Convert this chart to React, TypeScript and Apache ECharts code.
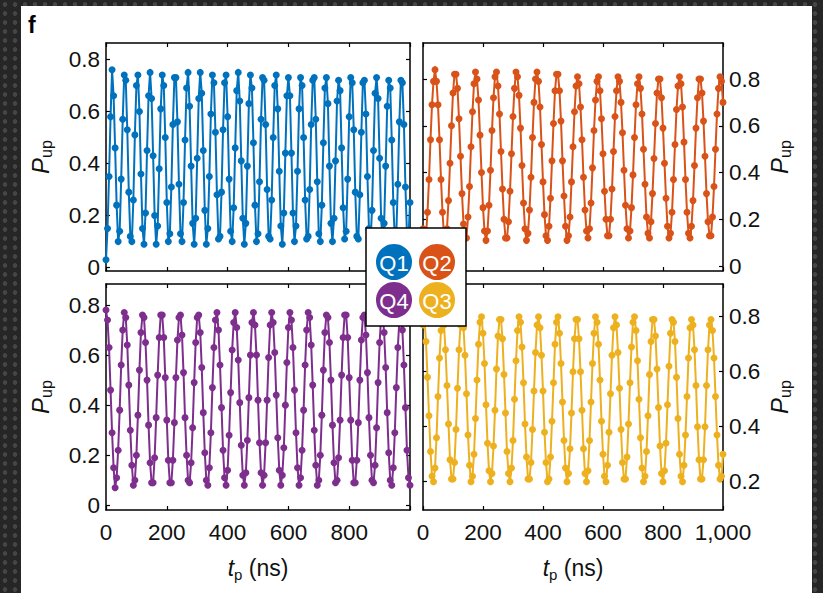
import React, { useEffect, useRef } from "react";
import * as echarts from "echarts";

// sample times (ns): 0, 5, ..., 1000
const tp: number[] = Array.from({ length: 201 }, (_, i) => i * 5);

const q1: number[] = [
  0.03,0.15,0.35,0.58,0.76,0.66,0.46,0.24,0.10,0.14,
  0.34,0.57,0.74,0.72,0.53,0.29,0.12,0.10,0.26,0.51,
  0.70,0.74,0.60,0.36,0.15,0.09,0.21,0.45,0.66,0.75,
  0.65,0.43,0.20,0.09,0.16,0.38,0.61,0.74,0.70,0.50,
  0.25,0.10,0.13,0.31,0.55,0.73,0.73,0.56,0.32,0.13,
  0.10,0.25,0.49,0.69,0.75,0.62,0.39,0.17,0.09,0.19,
  0.42,0.65,0.75,0.67,0.45,0.22,0.09,0.15,0.35,0.59,
  0.74,0.71,0.52,0.28,0.11,0.12,0.29,0.53,0.71,0.74,
  0.58,0.34,0.14,0.10,0.23,0.46,0.68,0.75,0.64,0.41,
  0.19,0.09,0.17,0.39,0.63,0.74,0.69,0.48,0.24,0.10,
  0.13,0.33,0.57,0.73,0.72,0.55,0.30,0.12,0.11,0.26,
  0.50,0.70,0.74,0.61,0.37,0.16,0.09,0.21,0.44,0.66,
  0.73,0.66,0.44,0.21,0.10,0.16,0.37,0.61,0.73,0.70,
  0.50,0.26,0.11,0.12,0.30,0.55,0.72,0.73,0.57,0.33,
  0.13,0.10,0.24,0.48,0.69,0.73,0.63,0.39,0.17,0.10,
  0.19,0.41,0.64,0.72,0.68,0.46,0.23,0.11,0.14,0.34,
  0.58,0.73,0.71,0.53,0.29,0.12,0.11,0.28,0.52,0.71,
  0.72,0.59,0.35,0.15,0.10,0.22,0.45,0.67,0.73,0.65,
  0.42,0.19,0.10,0.17,0.39,0.62,0.72,0.69,0.49,0.25,
  0.11,0.13,0.32,0.56,0.72,0.71,0.55,0.31,0.13,0.11,
  0.25
];

const q2: number[] = [
  0.16,0.11,0.13,0.23,0.37,0.54,0.69,0.79,0.84,0.79,
  0.69,0.54,0.37,0.23,0.13,0.11,0.16,0.28,0.44,0.60,
  0.74,0.82,0.82,0.76,0.63,0.47,0.31,0.18,0.12,0.12,
  0.21,0.34,0.51,0.66,0.78,0.83,0.80,0.71,0.56,0.40,
  0.25,0.15,0.11,0.15,0.26,0.41,0.58,0.72,0.81,0.83,
  0.77,0.65,0.49,0.33,0.20,0.12,0.12,0.19,0.32,0.48,
  0.64,0.76,0.83,0.81,0.73,0.59,0.43,0.27,0.16,0.11,
  0.14,0.24,0.38,0.55,0.70,0.80,0.83,0.79,0.68,0.52,
  0.36,0.22,0.13,0.11,0.17,0.29,0.45,0.61,0.75,0.82,
  0.82,0.75,0.62,0.45,0.30,0.17,0.11,0.13,0.21,0.36,
  0.51,0.66,0.77,0.81,0.78,0.68,0.54,0.38,0.24,0.15,
  0.12,0.16,0.27,0.42,0.58,0.71,0.79,0.81,0.75,0.63,
  0.48,0.32,0.20,0.13,0.13,0.20,0.33,0.49,0.64,0.75,
  0.81,0.79,0.70,0.57,0.41,0.26,0.16,0.12,0.15,0.25,
  0.39,0.55,0.69,0.78,0.81,0.76,0.65,0.50,0.35,0.21,
  0.14,0.12,0.19,0.31,0.46,0.61,0.74,0.80,0.80,0.72,
  0.59,0.44,0.29,0.17,0.12,0.14,0.23,0.37,0.52,0.67,
  0.77,0.81,0.78,0.68,0.53,0.37,0.23,0.14,0.12,0.17,
  0.28,0.43,0.59,0.72,0.80,0.80,0.74,0.62,0.47,0.31,
  0.19,0.13,0.13,0.21,0.34,0.50,0.65,0.76,0.81,0.79,
  0.70
];

const q4: number[] = [
  0.78,0.74,0.63,0.46,0.29,0.15,0.07,0.11,0.22,0.38,
  0.56,0.70,0.77,0.75,0.64,0.48,0.30,0.16,0.08,0.10,
  0.20,0.36,0.54,0.69,0.76,0.75,0.65,0.50,0.32,0.17,
  0.09,0.09,0.19,0.35,0.52,0.67,0.76,0.76,0.67,0.51,
  0.34,0.18,0.09,0.09,0.18,0.33,0.51,0.66,0.75,0.76,
  0.68,0.53,0.35,0.20,0.10,0.09,0.17,0.31,0.49,0.65,
  0.75,0.76,0.69,0.55,0.37,0.21,0.10,0.08,0.15,0.29,
  0.47,0.63,0.74,0.77,0.70,0.56,0.39,0.22,0.11,0.08,
  0.14,0.28,0.45,0.62,0.73,0.77,0.71,0.58,0.41,0.24,
  0.12,0.08,0.13,0.26,0.43,0.60,0.73,0.77,0.72,0.60,
  0.42,0.25,0.13,0.08,0.12,0.25,0.42,0.59,0.72,0.77,
  0.73,0.61,0.44,0.27,0.14,0.08,0.12,0.23,0.40,0.57,
  0.71,0.77,0.74,0.63,0.46,0.29,0.15,0.08,0.11,0.22,
  0.38,0.56,0.70,0.77,0.75,0.64,0.48,0.30,0.16,0.08,
  0.10,0.20,0.36,0.54,0.69,0.76,0.75,0.65,0.50,0.32,
  0.17,0.09,0.10,0.19,0.34,0.52,0.67,0.76,0.76,0.67,
  0.51,0.34,0.18,0.09,0.09,0.18,0.33,0.50,0.66,0.75,
  0.76,0.68,0.53,0.35,0.20,0.10,0.09,0.16,0.31,0.49,
  0.65,0.75,0.76,0.69,0.55,0.37,0.21,0.10,0.08,0.15,
  0.29,0.47,0.63,0.74,0.77,0.70,0.56,0.39,0.22,0.11,
  0.08
];

const q3: number[] = [
  0.77,0.79,0.71,0.58,0.44,0.31,0.22,0.20,0.25,0.36,
  0.51,0.65,0.75,0.80,0.77,0.68,0.55,0.41,0.28,0.21,
  0.21,0.27,0.39,0.54,0.68,0.77,0.80,0.76,0.66,0.52,
  0.37,0.26,0.20,0.22,0.30,0.43,0.57,0.70,0.78,0.80,
  0.74,0.63,0.48,0.34,0.24,0.20,0.23,0.33,0.46,0.61,
  0.73,0.79,0.79,0.72,0.59,0.45,0.31,0.23,0.20,0.25,
  0.35,0.50,0.64,0.75,0.80,0.78,0.69,0.56,0.41,0.29,
  0.21,0.21,0.27,0.39,0.53,0.67,0.77,0.80,0.76,0.66,
  0.53,0.38,0.27,0.20,0.21,0.29,0.42,0.56,0.70,0.78,
  0.80,0.74,0.63,0.49,0.35,0.25,0.20,0.23,0.32,0.45,
  0.60,0.72,0.79,0.79,0.72,0.60,0.46,0.32,0.23,0.20,
  0.24,0.35,0.49,0.63,0.74,0.80,0.78,0.70,0.57,0.42,
  0.30,0.22,0.20,0.26,0.38,0.52,0.66,0.76,0.80,0.77,
  0.67,0.54,0.39,0.27,0.21,0.21,0.29,0.41,0.56,0.69,
  0.78,0.80,0.75,0.64,0.50,0.36,0.25,0.20,0.22,0.31,
  0.44,0.59,0.71,0.79,0.79,0.73,0.61,0.47,0.33,0.23,
  0.20,0.24,0.34,0.48,0.62,0.74,0.79,0.78,0.71,0.58,
  0.43,0.30,0.22,0.20,0.26,0.37,0.51,0.65,0.76,0.79,
  0.77,0.68,0.55,0.40,0.28,0.21,0.21,0.28,0.40,0.55,
  0.68,0.77,0.79,0.75,0.65,0.51,0.37,0.26,0.21,0.22,
  0.30
];

const xTicks: number[] = [0, 200, 400, 600, 800, 1000];
const yTicks: number[] = [0, 0.2, 0.4, 0.6, 0.8];
const yTicksQ3: number[] = [0.2, 0.4, 0.6, 0.8];
const qubitNames: string[] = ["Q1", "Q2", "Q4", "Q3"];

const FONT = "'Liberation Sans', Arial, Helvetica, sans-serif";
const TXT = "#111";
const COLORS: Record<string, string> = {
  Q1: "#0072BD",
  Q2: "#D95319",
  Q3: "#EDB120",
  Q4: "#7E2F8E",
};

type Panel = {
  name: string;
  data: number[];
  grid: { left: number; top: number; width: number; height: number };
  yMin: number;
  yMax: number;
  yTicks: number[];
  side: "left" | "right";
  xLabels: boolean;
  hideMax: boolean;
};

const panels: Panel[] = [
  { name: "Q1", data: q1, grid: { left: 106, top: 43, width: 304, height: 228 }, yMin: -0.013, yMax: 0.863, yTicks, side: "left", xLabels: false, hideMax: true },
  { name: "Q2", data: q2, grid: { left: 423, top: 43, width: 300, height: 228 }, yMin: -0.021, yMax: 0.954, yTicks, side: "right", xLabels: false, hideMax: false },
  { name: "Q4", data: q4, grid: { left: 106, top: 284, width: 304, height: 226 }, yMin: -0.019, yMax: 0.884, yTicks, side: "left", xLabels: true, hideMax: true },
  { name: "Q3", data: q3, grid: { left: 423, top: 284, width: 300, height: 226 }, yMin: 0.097, yMax: 0.919, yTicks: yTicksQ3, side: "right", xLabels: true, hideMax: false },
];

const axisLine = { show: true, onZero: false, lineStyle: { color: "#000", width: 1.5 } };
const labelStyle = { color: TXT, fontSize: 22.5, fontFamily: FONT };

function buildOption() {
  const grid: any[] = [];
  const xAxis: any[] = [];
  const yAxis: any[] = [];
  const series: any[] = [];

  panels.forEach((p, k) => {
    grid.push({ ...p.grid, containLabel: false });
    xAxis.push({
      type: "value",
      gridIndex: k,
      min: 0,
      max: 1000,
      interval: 200,
      position: "bottom",
      axisLine,
      axisTick: { show: true, inside: true, length: 4, customValues: xTicks, lineStyle: { color: "#000", width: 1.2 } },
      axisLabel: {
        show: p.xLabels,
        margin: 11,
        ...labelStyle,
        customValues: p.hideMax ? xTicks.slice(0, 5) : xTicks,
        formatter: (v: number) => (v === 1000 ? "1,000" : String(v)),
      },
      splitLine: { show: false },
      name: p.xLabels ? "{t|t}{s|p}{n| (ns)}" : "",
      nameLocation: "middle",
      nameGap: 44,
      nameTextStyle: {
        color: TXT,
        fontFamily: FONT,
        rich: {
          t: { fontSize: 23, fontStyle: "italic", fontFamily: FONT, color: TXT, lineHeight: 28 },
          s: { fontSize: 15, fontFamily: FONT, color: TXT, lineHeight: 14, verticalAlign: "bottom" },
          n: { fontSize: 23, fontFamily: FONT, color: TXT, lineHeight: 28 },
        },
      },
    });
    xAxis.push({
      type: "value",
      gridIndex: k,
      min: 0,
      max: 1000,
      interval: 200,
      position: "top",
      axisLine,
      axisTick: { show: true, inside: true, length: 4, customValues: xTicks, lineStyle: { color: "#000", width: 1.2 } },
      axisLabel: { show: false },
      splitLine: { show: false },
    });
    yAxis.push({
      type: "value",
      gridIndex: k,
      min: p.yMin,
      max: p.yMax,
      position: p.side,
      axisLine,
      axisTick: { show: true, inside: true, length: 4, customValues: p.yTicks, lineStyle: { color: "#000", width: 1.2 } },
      axisLabel: {
        show: true,
        margin: 6,
        ...labelStyle,
        customValues: p.yTicks,
        formatter: (v: number) => (Math.abs(v) < 1e-9 ? "0" : v.toFixed(1)),
      },
      splitLine: { show: false },
      name: "{p|P}{s|up}",
      nameLocation: "middle",
      nameRotate: 90,
      nameGap: p.side === "left" ? 52 : 42,
      nameTextStyle: {
        color: TXT,
        fontFamily: FONT,
        rich: {
          p: { fontSize: 24, fontStyle: "italic", fontFamily: FONT, color: TXT, lineHeight: 28 },
          s: { fontSize: 16, fontFamily: FONT, color: TXT, lineHeight: 14, verticalAlign: "bottom" },
        },
      },
    });
    yAxis.push({
      type: "value",
      gridIndex: k,
      min: p.yMin,
      max: p.yMax,
      position: p.side === "left" ? "right" : "left",
      axisLine,
      axisTick: { show: true, inside: true, length: 4, customValues: p.yTicks, lineStyle: { color: "#000", width: 1.2 } },
      axisLabel: { show: false },
      splitLine: { show: false },
    });
    series.push({
      name: p.name,
      type: "line",
      xAxisIndex: 2 * k,
      yAxisIndex: 2 * k,
      data: tp.map((t, i) => [t, p.data[i]]),
      symbol: "circle",
      symbolSize: 7,
      showSymbol: true,
      showAllSymbol: true,
      clip: true,
      lineStyle: { color: COLORS[p.name], width: 2 },
      itemStyle: { color: COLORS[p.name] },
      z: 2,
    });
  });

  // legend box with coloured qubit badges
  const badgePos: Record<string, [number, number]> = {
    Q1: [394, 262],
    Q2: [437, 262],
    Q4: [394, 300],
    Q3: [437, 300],
  };
  const badges: any[] = [];
  qubitNames.forEach((q) => {
    const [cx, cy] = badgePos[q];
    badges.push({
      type: "circle",
      shape: { cx, cy, r: 18 },
      style: { fill: COLORS[q] },
      z: 101,
    });
    badges.push({
      type: "text",
      x: cx,
      y: cy + 1,
      style: {
        text: q,
        fill: "#fff",
        font: `22px ${FONT}`,
        textAlign: "center",
        textVerticalAlign: "middle",
      },
      z: 102,
    });
  });

  const graphic: any[] = [
    {
      type: "rect",
      shape: { x: 366, y: 228, width: 100, height: 98 },
      style: { fill: "#fff", stroke: "#000", lineWidth: 1.5 },
      z: 100,
    },
    ...badges,
    {
      type: "text",
      x: 28,
      y: 13,
      style: { text: "f", fill: "#000", font: `bold 23px ${FONT}` },
      z: 100,
    },
  ];

  return {
    animation: false,
    backgroundColor: "transparent",
    grid,
    xAxis,
    yAxis,
    series,
    graphic,
  };
}

export default function App() {
  const ref = useRef<HTMLDivElement>(null);
  useEffect(() => {
    if (!ref.current) return;
    const chart = echarts.init(ref.current, null, { renderer: "svg" });
    chart.setOption(buildOption() as any);
    return () => chart.dispose();
  }, []);

  return (
    <div
      style={{
        position: "fixed",
        left: 0,
        top: 0,
        width: 823,
        height: 593,
        backgroundColor: "#262626",
        backgroundImage:
          "radial-gradient(circle, #454545 0, #454545 2px, rgba(0,0,0,0) 2.6px)",
        backgroundSize: "10px 9px",
        overflow: "hidden",
      }}
    >
      <div
        style={{
          position: "absolute",
          left: 21,
          top: 6,
          width: 791,
          height: 587,
          background: "#fff",
        }}
      />
      <div ref={ref} style={{ position: "absolute", left: 0, top: 0, width: 823, height: 593 }} />
    </div>
  );
}
